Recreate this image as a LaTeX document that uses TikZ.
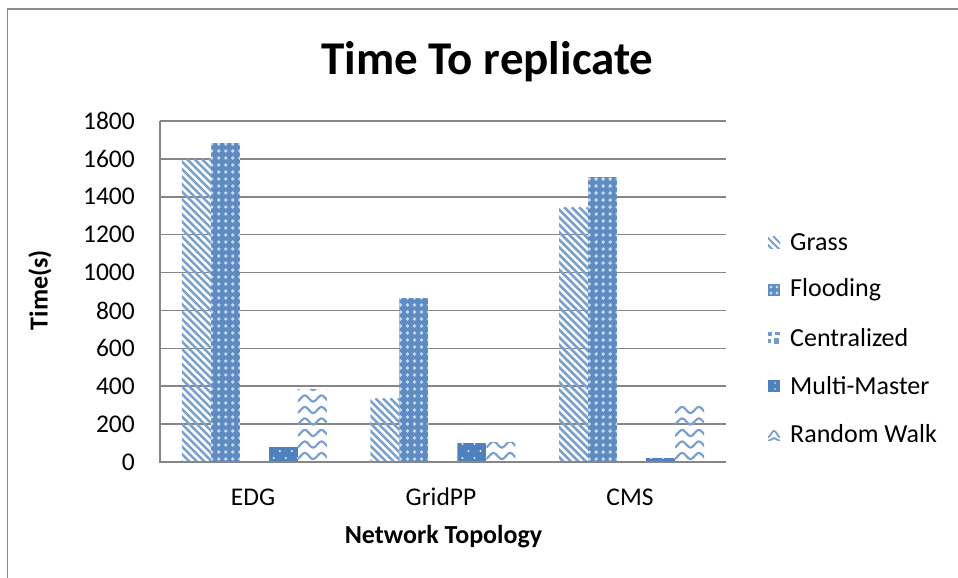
\documentclass[tikz,border=0pt]{standalone}
\usepackage{fontspec}
\setmainfont{Carlito}
\definecolor{barblue}{HTML}{4F81BD}
\definecolor{gridgray}{HTML}{868686}
\definecolor{framegray}{HTML}{8C8C8C}

% geometry of the plot (1 unit = 1 px, y grows downwards)
\newcommand\plotleft{160}
\newcommand\plotright{726}
\newcommand\plotbase{462}
\newcommand\plottop{121}
\newcommand\vscale{0.18944}

% pattern fillers; they read \bl, \br, \bt set by \chartbar
\newcommand\patgrass{%
  \foreach \k in {-340,-332.5,...,40}
    \draw[stripe] (\bl+\k,\bt) -- ++(400,400);}
\newcommand\patflood{%
  \fill[barblue!92!white] (\bl,\bt) rectangle (\br,\plotbase);
  \foreach \i in {0,...,4}
    \foreach \j in {0,...,50}
      \fill[barblue!30!white] (\bl+1+\i*7,\plotbase-3-\j*7) circle (1.9);}
\newcommand\patcentral{%
  \fill[barblue] (\bl,\bt) rectangle (\br,\plotbase);}
\newcommand\patmulti{%
  \fill[barblue] (\bl,\bt) rectangle (\br,\plotbase);
  \foreach \i in {0,1,2}
    \foreach \j in {0,...,20}
      \fill[white!85!barblue] ({\bl+5+\i*12+6*mod(\j,2)},{\plotbase-4-\j*7}) circle (1.2);}
\newcommand\patwalk{%
  \foreach \j in {0,...,40}
    \draw[wave] plot[domain=-3:32, samples=40, smooth]
      ({\bl+\x},{\plotbase-6-\j*11.5-3*cos((\x-7)*360/16.7)});}

% one bar: category #1, series #2, value #3, pattern #4
\newcommand\chartbar[4]{%
  \pgfmathsetmacro\bl{\plotleft+#1*188.67+21.8+#2*29}%
  \pgfmathsetmacro\br{\bl+29}%
  \pgfmathsetmacro\bt{\plotbase-#3*\vscale}%
  \begin{scope}
    \clip (\bl,\bt) rectangle (\br,\plotbase);
    \csname pat#4\endcsname
  \end{scope}}

\begin{document}
\begin{tikzpicture}[x=1pt,y=-1pt,
  stripe/.style={barblue!75!white, line width=2.6pt},
  wave/.style={barblue!75!white, line width=2.2pt},
  grid/.style={gridgray, line width=1.6pt},
  ticklabel/.style={font=\fontsize{25.5}{26}\selectfont, inner sep=0pt},
  legendtext/.style={font=\fontsize{26}{27}\selectfont, anchor=west, inner sep=0pt},
  axistitle/.style={font=\bfseries\fontsize{26}{27}\selectfont, inner sep=0pt}]
\useasboundingbox (0,0) rectangle (958,578);
\fill[white] (0,0) rectangle (958,578);

% chart frame, running past the page edge on the right and bottom
\begin{scope}
  \clip (0,0) rectangle (958,578);
  \draw[framegray, line width=1.6pt] (7.5,9.3) rectangle (990,610);
\end{scope}

% title
\node[font=\bfseries\fontsize{47}{48}\selectfont, inner sep=0pt] (title) at (487.5,62) {Time To replicate};

% horizontal grid lines and value labels
\foreach \v in {200,400,...,1800} {
  \draw[grid] (\plotleft,{\plotbase-\v*\vscale}) -- (\plotright,{\plotbase-\v*\vscale});
}
\foreach \v in {0,200,...,1800} {
  \node[ticklabel, anchor=east] (y\v) at (135,{\plotbase-\v*\vscale}) {\v};
}

% bars
\chartbar{0}{0}{1600}{grass}
\chartbar{0}{1}{1683}{flood}
\chartbar{0}{2}{6}{central}
\chartbar{0}{3}{78}{multi}
\chartbar{0}{4}{384}{walk}

\chartbar{1}{0}{336}{grass}
\chartbar{1}{1}{864}{flood}
\chartbar{1}{2}{2}{central}
\chartbar{1}{3}{99}{multi}
\chartbar{1}{4}{104}{walk}

\chartbar{2}{0}{1345}{grass}
\chartbar{2}{1}{1503}{flood}
\chartbar{2}{2}{6}{central}
\chartbar{2}{3}{22}{multi}
\chartbar{2}{4}{301}{walk}

% axes
\draw[grid] (\plotleft,\plottop) -- (\plotleft,\plotbase) -- (\plotright,\plotbase);

% category labels
\node[ticklabel] (edg) at (253,497) {EDG};
\node[ticklabel] (gridpp) at (441,497) {GridPP};
\node[ticklabel] (cms) at (630,497) {CMS};

% axis titles
\node[axistitle] (xtitle) at (443.5,537) {Network Topology};
\node[axistitle, rotate=90] (ytitle) at (40,290) {Time(s)};

% legend
\begin{scope}
  \clip (768,236) rectangle (780,248);
  \foreach \k in {-16,-9,...,12} \draw[barblue!75!white, line width=2pt] (768+\k,236) -- ++(20,20);
\end{scope}
\node[legendtext] (lgrass) at (790,242) {Grass};

\fill[barblue!92!white] (768,284) rectangle (780,296);
\foreach \i in {0,1} \foreach \j in {0,1}
  \fill[barblue!30!white] (771+\i*6,287+\j*6) circle (1.6);
\node[legendtext] (lflood) at (790,290) {Flooding};

\fill[barblue!80!white] (768,332) rectangle (772,336);
\fill[barblue!80!white] (775,332) rectangle (780,335);
\fill[barblue!80!white] (768,339) rectangle (771,343);
\fill[barblue!80!white] (774,338) rectangle (779,344);
\node[legendtext] (lcentral) at (790,338) {Centralized};

\fill[barblue] (768,380) rectangle (780,392);
\fill[white!85!barblue] (775,383) circle (0.9);
\fill[white!85!barblue] (775,389) circle (0.9);
\node[legendtext] (lmulti) at (790,386) {Multi-Master};

\begin{scope}
  \clip (768,428) rectangle (780,440);
  \draw[barblue!75!white, line width=1.8pt] plot[domain=-2:14, samples=20, smooth] ({768+\x},{434+3*cos(\x*360/12)});
  \draw[barblue!75!white, line width=1.8pt] (768,441) -- (774,438) -- (780,441);
\end{scope}
\node[legendtext] (lwalk) at (790,434) {Random Walk};
\end{tikzpicture}
\end{document}
